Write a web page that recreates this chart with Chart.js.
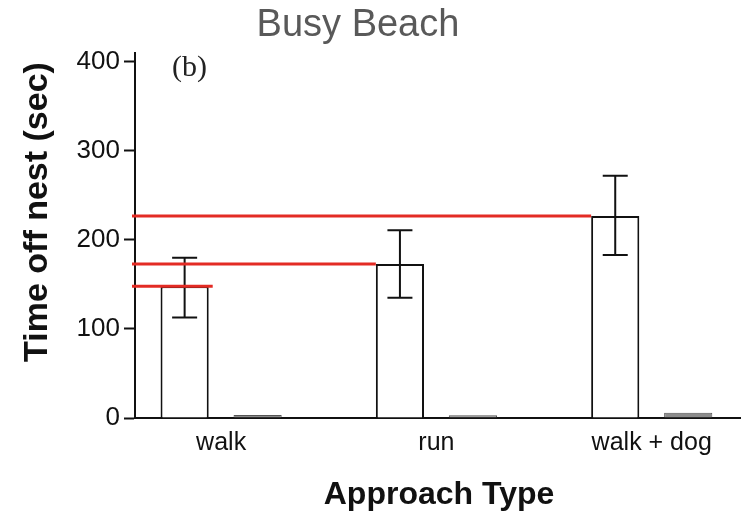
<!DOCTYPE html>
<html>
<head>
<meta charset="utf-8">
<title>Busy Beach</title>
<script src="https://cdn.jsdelivr.net/npm/chart.js@4.4.0/dist/chart.umd.min.js"></script>
<style>
  html, body { margin: 0; padding: 0; background: #fff; }
  #wrap { width: 744px; height: 516px; }
</style>
</head>
<body>
<div id="wrap"><canvas id="chart" width="744" height="516"></canvas></div>
<script>
// Mean time off nest per approach type, with error range, plus the control bars
const approachTypes = ['walk', 'run', 'walk + dog'];
const timeOffNest = [148, 173, 227];
const errLow = [113, 135, 183];
const errHigh = [180, 211, 272];
const controlTime = [3.5, 3, 6];
const yTicks = [0, 100, 200, 300, 400];

const FONT = '"Liberation Sans", Arial, sans-serif';

// error bars, red reference lines and the text around the plot
const annotate = {
    id: 'annotate',
    afterDatasetsDraw(chart) {
        const { ctx, chartArea, scales: { y } } = chart;
        const bars = chart.getDatasetMeta(0).data;
        ctx.save();

        ctx.strokeStyle = '#111';
        ctx.lineWidth = 2;
        bars.forEach((bar, i) => {
            const top = y.getPixelForValue(errHigh[i]);
            const bot = y.getPixelForValue(errLow[i]);
            ctx.beginPath();
            ctx.moveTo(bar.x, top);
            ctx.lineTo(bar.x, bot);
            ctx.moveTo(bar.x - 12.5, top);
            ctx.lineTo(bar.x + 12.5, top);
            ctx.moveTo(bar.x - 12.5, bot);
            ctx.lineTo(bar.x + 12.5, bot);
            ctx.stroke();
        });

        ctx.strokeStyle = '#e32b24';
        ctx.lineWidth = 3;
        bars.forEach((bar, i) => {
            const py = y.getPixelForValue(timeOffNest[i]);
            const end = i === 0 ? bar.x + bar.width / 2 + 4 : bar.x - bar.width / 2;
            ctx.beginPath();
            ctx.moveTo(chartArea.left - 3, py);
            ctx.lineTo(end, py);
            ctx.stroke();
        });
        ctx.restore();
    },
    afterDraw(chart) {
        const ctx = chart.ctx;
        ctx.save();
        ctx.textBaseline = 'alphabetic';

        ctx.fillStyle = '#595959';
        ctx.textAlign = 'center';
        ctx.font = '38px ' + FONT;
        ctx.fillText('Busy Beach', 358, 36);

        ctx.fillStyle = '#222';
        ctx.textAlign = 'left';
        ctx.font = '30px "Liberation Serif", "Times New Roman", serif';
        ctx.fillText('(b)', 172, 76);

        ctx.fillStyle = '#111';
        ctx.textAlign = 'center';
        ctx.font = 'bold 32px ' + FONT;
        ctx.fillText('Approach Type', 439, 504);

        ctx.translate(47, 212);
        ctx.rotate(-Math.PI / 2);
        ctx.font = 'bold 34px ' + FONT;
        ctx.fillText('Time off nest (sec)', 0, 0);
        ctx.restore();
    }
};

new Chart(document.getElementById('chart'), {
    type: 'bar',
    data: {
        datasets: [{
            label: 'Time off nest',
            data: timeOffNest.map((v, i) => ({ x: i, y: v })),
            backgroundColor: '#fff',
            borderColor: '#111',
            borderWidth: 2
        }, {
            label: 'Control',
            data: controlTime.map((v, i) => ({ x: i, y: v })),
            backgroundColor: '#8c8c8c',
            borderColor: '#555',
            borderWidth: 1
        }]
    },
    options: {
        responsive: false,
        animation: false,
        devicePixelRatio: 1,
        categoryPercentage: 0.678,
        barPercentage: 0.66,
        layout: { padding: { top: 53, right: 4, bottom: 0, left: 0 } },
        plugins: {
            legend: { display: false },
            tooltip: { enabled: false }
        },
        scales: {
            x: {
                type: 'linear',
                offset: false,
                min: -0.4,
                max: 2.41,
                afterBuildTicks: scale => {
                    scale.ticks = approachTypes.map((_, i) => ({ value: i }));
                },
                afterFit: scale => { scale.height = 98; },
                grid: { display: false, drawTicks: false, tickLength: 0 },
                border: { display: true, color: '#111', width: 2 },
                ticks: {
                    color: '#111',
                    padding: 10,
                    font: { family: FONT, size: 25 },
                    maxRotation: 0,
                    autoSkip: false,
                    callback: value => approachTypes[value] ?? ''
                }
            },
            y: {
                min: 0,
                max: 410,
                afterBuildTicks: scale => {
                    scale.ticks = yTicks.map(v => ({ value: v }));
                },
                afterFit: scale => { scale.width = 135; },
                grid: {
                    drawOnChartArea: false,
                    tickLength: 11,
                    tickWidth: 2,
                    tickColor: '#111'
                },
                border: { display: true, color: '#111', width: 2 },
                ticks: {
                    color: '#111',
                    padding: 4,
                    font: { family: FONT, size: 26 }
                }
            }
        }
    },
    plugins: [annotate]
});
</script>
</body>
</html>
